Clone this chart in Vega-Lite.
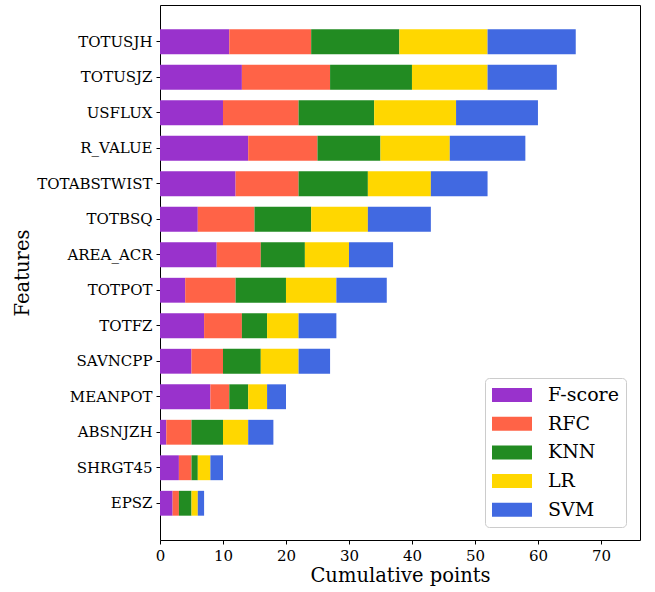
{
  "$schema": "https://vega.github.io/schema/vega-lite/v6.json",
  "width": 480,
  "height": 535,
  "autosize": {"type": "none"},
  "padding": {"left": 160, "top": 5, "right": 15, "bottom": 52},
  "config": {
    "font": "DejaVu Serif",
    "view": {"stroke": "#000000", "strokeWidth": 1},
    "axis": {"domain": false, "grid": false, "tickColor": "#000000", "tickSize": 4, "labelColor": "#000000", "titleColor": "#000000", "labelFont": "DejaVu Serif", "titleFont": "DejaVu Serif", "labelFontSize": 15, "titleFontSize": 19.5, "titleFontWeight": "normal"}
  },
  "data": {"values": [
    {"feature":"TOTUSJH","method":"F-score","k":1,"points":11},
    {"feature":"TOTUSJH","method":"RFC","k":2,"points":13},
    {"feature":"TOTUSJH","method":"KNN","k":3,"points":14},
    {"feature":"TOTUSJH","method":"LR","k":4,"points":14},
    {"feature":"TOTUSJH","method":"SVM","k":5,"points":14},
    {"feature":"TOTUSJZ","method":"F-score","k":1,"points":13},
    {"feature":"TOTUSJZ","method":"RFC","k":2,"points":14},
    {"feature":"TOTUSJZ","method":"KNN","k":3,"points":13},
    {"feature":"TOTUSJZ","method":"LR","k":4,"points":12},
    {"feature":"TOTUSJZ","method":"SVM","k":5,"points":11},
    {"feature":"USFLUX","method":"F-score","k":1,"points":10},
    {"feature":"USFLUX","method":"RFC","k":2,"points":12},
    {"feature":"USFLUX","method":"KNN","k":3,"points":12},
    {"feature":"USFLUX","method":"LR","k":4,"points":13},
    {"feature":"USFLUX","method":"SVM","k":5,"points":13},
    {"feature":"R_VALUE","method":"F-score","k":1,"points":14},
    {"feature":"R_VALUE","method":"RFC","k":2,"points":11},
    {"feature":"R_VALUE","method":"KNN","k":3,"points":10},
    {"feature":"R_VALUE","method":"LR","k":4,"points":11},
    {"feature":"R_VALUE","method":"SVM","k":5,"points":12},
    {"feature":"TOTABSTWIST","method":"F-score","k":1,"points":12},
    {"feature":"TOTABSTWIST","method":"RFC","k":2,"points":10},
    {"feature":"TOTABSTWIST","method":"KNN","k":3,"points":11},
    {"feature":"TOTABSTWIST","method":"LR","k":4,"points":10},
    {"feature":"TOTABSTWIST","method":"SVM","k":5,"points":9},
    {"feature":"TOTBSQ","method":"F-score","k":1,"points":6},
    {"feature":"TOTBSQ","method":"RFC","k":2,"points":9},
    {"feature":"TOTBSQ","method":"KNN","k":3,"points":9},
    {"feature":"TOTBSQ","method":"LR","k":4,"points":9},
    {"feature":"TOTBSQ","method":"SVM","k":5,"points":10},
    {"feature":"AREA_ACR","method":"F-score","k":1,"points":9},
    {"feature":"AREA_ACR","method":"RFC","k":2,"points":7},
    {"feature":"AREA_ACR","method":"KNN","k":3,"points":7},
    {"feature":"AREA_ACR","method":"LR","k":4,"points":7},
    {"feature":"AREA_ACR","method":"SVM","k":5,"points":7},
    {"feature":"TOTPOT","method":"F-score","k":1,"points":4},
    {"feature":"TOTPOT","method":"RFC","k":2,"points":8},
    {"feature":"TOTPOT","method":"KNN","k":3,"points":8},
    {"feature":"TOTPOT","method":"LR","k":4,"points":8},
    {"feature":"TOTPOT","method":"SVM","k":5,"points":8},
    {"feature":"TOTFZ","method":"F-score","k":1,"points":7},
    {"feature":"TOTFZ","method":"RFC","k":2,"points":6},
    {"feature":"TOTFZ","method":"KNN","k":3,"points":4},
    {"feature":"TOTFZ","method":"LR","k":4,"points":5},
    {"feature":"TOTFZ","method":"SVM","k":5,"points":6},
    {"feature":"SAVNCPP","method":"F-score","k":1,"points":5},
    {"feature":"SAVNCPP","method":"RFC","k":2,"points":5},
    {"feature":"SAVNCPP","method":"KNN","k":3,"points":6},
    {"feature":"SAVNCPP","method":"LR","k":4,"points":6},
    {"feature":"SAVNCPP","method":"SVM","k":5,"points":5},
    {"feature":"MEANPOT","method":"F-score","k":1,"points":8},
    {"feature":"MEANPOT","method":"RFC","k":2,"points":3},
    {"feature":"MEANPOT","method":"KNN","k":3,"points":3},
    {"feature":"MEANPOT","method":"LR","k":4,"points":3},
    {"feature":"MEANPOT","method":"SVM","k":5,"points":3},
    {"feature":"ABSNJZH","method":"F-score","k":1,"points":1},
    {"feature":"ABSNJZH","method":"RFC","k":2,"points":4},
    {"feature":"ABSNJZH","method":"KNN","k":3,"points":5},
    {"feature":"ABSNJZH","method":"LR","k":4,"points":4},
    {"feature":"ABSNJZH","method":"SVM","k":5,"points":4},
    {"feature":"SHRGT45","method":"F-score","k":1,"points":3},
    {"feature":"SHRGT45","method":"RFC","k":2,"points":2},
    {"feature":"SHRGT45","method":"KNN","k":3,"points":1},
    {"feature":"SHRGT45","method":"LR","k":4,"points":2},
    {"feature":"SHRGT45","method":"SVM","k":5,"points":2},
    {"feature":"EPSZ","method":"F-score","k":1,"points":2},
    {"feature":"EPSZ","method":"RFC","k":2,"points":1},
    {"feature":"EPSZ","method":"KNN","k":3,"points":2},
    {"feature":"EPSZ","method":"LR","k":4,"points":1},
    {"feature":"EPSZ","method":"SVM","k":5,"points":1}
  ]},
  "mark": {"type": "bar"},
  "encoding": {
    "y": {
      "field": "feature", "type": "nominal",
      "sort": ["TOTUSJH","TOTUSJZ","USFLUX","R_VALUE","TOTABSTWIST","TOTBSQ","AREA_ACR","TOTPOT","TOTFZ","SAVNCPP","MEANPOT","ABSNJZH","SHRGT45","EPSZ"],
      "scale": {"paddingInner": 0.3, "paddingOuter": 0.685},
      "axis": {"title": "Features", "labelPadding": 4, "titlePadding": 4}
    },
    "x": {
      "field": "points", "type": "quantitative", "stack": "zero",
      "scale": {"domain": [0, 76.2], "nice": false, "zero": true},
      "axis": {"title": "Cumulative points", "values": [0,10,20,30,40,50,60,70], "labelPadding": 4, "titlePadding": 3, "labelFlush": false}
    },
    "order": {"field": "k", "type": "quantitative", "sort": "ascending"},
    "color": {
      "field": "method", "type": "nominal",
      "scale": {"domain": ["F-score","RFC","KNN","LR","SVM"], "range": ["#9932CC","#FF6347","#228B22","#FFD700","#4169E1"]},
      "legend": {
        "title": null, "orient": "none", "legendX": 325, "legendY": 373,
        "fillColor": "#ffffff", "strokeColor": "#cccccc", "cornerRadius": 4, "padding": 7,
        "symbolType": "M-2,-0.7H2V0.7H-2Z", "symbolSize": 400, "symbolStrokeWidth": 0, "symbolOpacity": 1,
        "symbolOffset": 10, "labelOffset": 26, "labelFontSize": 19, "labelColor": "#000000", "labelFont": "DejaVu Serif",
        "rowPadding": 8.7
      }
    }
  }
}
